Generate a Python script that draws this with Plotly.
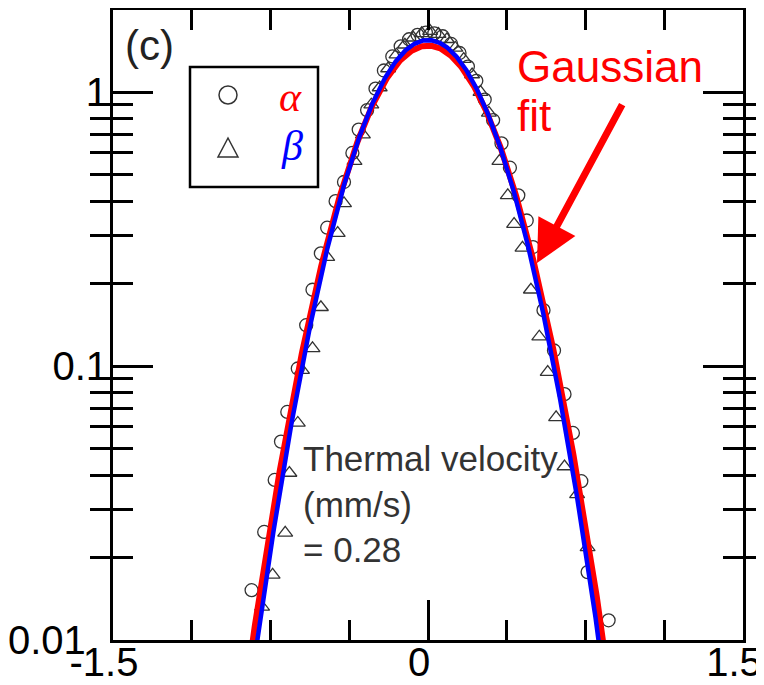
import numpy as np
import plotly.graph_objects as go

# ---- data ----
alpha_x = [-0.84, -0.78, -0.73, -0.70, -0.67, -0.62, -0.58, -0.55, -0.51, -0.48, -0.44, -0.40,
           -0.36, -0.33, -0.29, -0.25, -0.21, -0.17, -0.13, -0.09, -0.05, -0.01, 0.03, 0.07,
           0.11, 0.15, 0.19, 0.23, 0.27, 0.31, 0.35, 0.39, 0.43, 0.47, 0.50, 0.55, 0.60,
           0.65, 0.69, 0.73, 0.76, 0.86]
alpha_y = [0.0152, 0.0248, 0.0384, 0.053, 0.068, 0.098, 0.141, 0.19, 0.258, 0.32, 0.40, 0.47,
           0.60, 0.73, 0.86, 1.03, 1.20, 1.35, 1.47, 1.56, 1.62, 1.65, 1.64, 1.60,
           1.50, 1.39, 1.24, 1.10, 0.94, 0.79, 0.65, 0.53, 0.42, 0.34, 0.272, 0.16, 0.114,
           0.079, 0.057, 0.038, 0.0177, 0.0118]

beta_x = [-0.79, -0.74, -0.68, -0.66, -0.62, -0.60, -0.55, -0.51, -0.48, -0.43, -0.40, -0.35,
          -0.31, -0.27, -0.23, -0.19, -0.15, -0.11, -0.07, -0.03, 0.01, 0.05, 0.09, 0.13,
          0.17, 0.21, 0.25, 0.29, 0.34, 0.38, 0.41, 0.45, 0.49, 0.53, 0.57, 0.61, 0.65,
          0.71, 0.76]
beta_y = [0.0132, 0.0173, 0.0246, 0.0407, 0.062, 0.0967, 0.116, 0.164, 0.25, 0.306, 0.393, 0.56,
          0.70, 0.90, 1.04, 1.22, 1.37, 1.49, 1.58, 1.64, 1.67, 1.63, 1.56, 1.45,
          1.32, 1.16, 1.00, 0.84, 0.56, 0.42, 0.33, 0.27, 0.19, 0.128, 0.095, 0.065, 0.043,
          0.034, 0.0218]

# Gaussian fit parameters (amplitude, width)
fit_alpha_amp, fit_alpha_sigma = 1.48, 0.264
fit_beta_amp, fit_beta_sigma = 1.55, 0.256

x_major_ticks = [-1.5, 0, 1.5]
x_tick_text = ["-1.5", "0", "1.5"]
x_minor_ticks = [-1.125, -0.75, -0.375, 0.375, 0.75, 1.125]
x_top_ticks = [-1.125, -0.75, -0.375, 0, 0.375, 0.75, 1.125]
y_major_ticks = [0.01, 0.1, 1]
y_tick_text = ["0.01\u00a0\u00a0", "0.1", "1"]
y_minor_ticks = [m * d for d in (0.01, 0.1, 1) for m in range(2, 10)]

# ---- geometry (page pixels; the page body has an 8px margin) ----
BODY = 8
W, H = 764 - BODY, 685 - BODY
PL, PR, PT, PB = 113, 743, 10, 640          # plot area in page pixels
L, R, T, B = PL - BODY, W + BODY - PR, PT - BODY, H + BODY - PB
PW, PH = PR - PL, PB - PT


def px(xp):
    return (xp - PL) / PW


def py(yp):
    return (PB - yp) / PH


xs = np.linspace(-0.95, 0.95, 600)
y_alpha_fit = fit_alpha_amp * np.exp(-xs**2 / (2 * fit_alpha_sigma**2))
y_beta_fit = fit_beta_amp * np.exp(-xs**2 / (2 * fit_beta_sigma**2))

fig = go.Figure()
mk = dict(color="#333333", size=13, line=dict(color="#333333", width=1.3))
fig.add_trace(go.Scatter(x=alpha_x, y=alpha_y, mode="markers", name="α",
                         marker=dict(symbol="circle-open", **mk), showlegend=False))
fig.add_trace(go.Scatter(x=beta_x, y=beta_y, mode="markers", name="β",
                         marker=dict(symbol="triangle-up-open", **mk), showlegend=False))
fig.add_trace(go.Scatter(x=xs, y=y_alpha_fit, mode="lines", line=dict(color="#ff0000", width=6),
                         showlegend=False))
fig.add_trace(go.Scatter(x=xs, y=y_beta_fit, mode="lines", line=dict(color="#0000ff", width=4.5),
                         showlegend=False))
# invisible traces so that the tick-only overlay axes are drawn
fig.add_trace(go.Scatter(x=[0], y=[1], xaxis="x2", yaxis="y2", mode="markers",
                         marker=dict(opacity=0), showlegend=False, hoverinfo="skip"))
fig.add_trace(go.Scatter(x=[0], y=[1], xaxis="x3", yaxis="y2", mode="markers",
                         marker=dict(opacity=0), showlegend=False, hoverinfo="skip"))

font = "Liberation Sans, Arial, sans-serif"
tk = dict(ticks="inside", tickwidth=2.5, tickcolor="black", showgrid=False, zeroline=False,
          automargin=False)
fig.update_layout(
    width=W, height=H, margin=dict(l=L, r=R, t=T, b=B, autoexpand=False),
    paper_bgcolor="white", plot_bgcolor="white",
    font=dict(family=font, color="black"),
    xaxis=dict(range=[-1.5, 1.5], tickmode="array", tickvals=x_major_ticks, ticktext=x_tick_text,
               ticklen=40, showline=True, linecolor="black", linewidth=3, mirror=True,
               tickfont=dict(size=40), ticklabeloverflow="allow", ticklabelshift=-9,
               ticklabelstandoff=-15, **tk),
    xaxis2=dict(range=[-1.5, 1.5], overlaying="x", side="bottom", anchor="y2",
                tickmode="array", tickvals=x_minor_ticks, ticklen=20, showticklabels=False,
                showline=False, **tk),
    xaxis3=dict(range=[-1.5, 1.5], overlaying="x", side="top", anchor="y2",
                tickmode="array", tickvals=x_top_ticks, ticklen=20, showticklabels=False,
                showline=False, **tk),
    yaxis=dict(type="log", range=[-2, 0.3], tickmode="array", tickvals=y_major_ticks,
               ticktext=y_tick_text, ticklen=40, showline=True, linecolor="black", linewidth=3,
               mirror="allticks", tickfont=dict(size=40), ticklabelstandoff=-6, **tk),
    yaxis2=dict(type="log", range=[-2, 0.3], overlaying="y", side="left", anchor="x2",
                tickmode="array", tickvals=y_minor_ticks, ticklen=20, showticklabels=False,
                showline=True, linecolor="black", linewidth=3, mirror="allticks", **tk),
)

# legend box drawn by hand
shapes = [
    dict(type="rect", xref="paper", yref="paper", x0=px(190), x1=px(318), y0=py(187), y1=py(67),
         line=dict(color="black", width=2.5)),
    dict(type="circle", xref="paper", yref="paper", x0=px(219), x1=px(237), y0=py(104), y1=py(86),
         line=dict(color="#333333", width=1.5)),
    dict(type="path", xref="paper", yref="paper",
         path=f"M {px(218)},{py(157)} L {px(238)},{py(157)} L {px(228)},{py(138)} Z",
         line=dict(color="#333333", width=1.5)),
]
fig.update_layout(shapes=shapes)

annotations = [
    dict(xref="paper", yref="paper", x=px(290), y=py(97), xanchor="center", yanchor="middle",
         text="<i>α</i>", showarrow=False,
         font=dict(family="Liberation Serif, serif", size=42, color="#ff0000")),
    dict(xref="paper", yref="paper", x=px(292), y=py(146), xanchor="center", yanchor="middle",
         text="<i>β</i>", showarrow=False,
         font=dict(family="Liberation Serif, serif", size=42, color="#0000ff")),
    dict(xref="paper", yref="paper", x=px(123), y=py(20), xanchor="left", yanchor="top",
         text="(c)", showarrow=False, font=dict(size=42, color="#222222")),
    dict(xref="paper", yref="paper", x=px(515), y=py(40), xanchor="left", yanchor="top",
         text="Gaussian", showarrow=False, font=dict(size=44, color="#ff0000")),
    dict(xref="paper", yref="paper", x=px(515), y=py(89), xanchor="left", yanchor="top",
         text="fit", showarrow=False, font=dict(size=44, color="#ff0000")),
    dict(xref="paper", yref="paper", x=px(301), y=py(437), xanchor="left", yanchor="top",
         align="left", text="Thermal velocity<br>(mm/s)<br>= 0.28", showarrow=False,
         font=dict(size=35, color="#333333")),
    dict(x=0.519, y=np.log10(0.2377), xref="x", yref="y", text="", showarrow=True,
         axref="pixel", ayref="pixel", ax=86, ay=-160,
         arrowhead=2, arrowsize=1.2, arrowwidth=7, arrowcolor="#ff0000"),
]
fig.update_layout(annotations=annotations)

fig.write_html("out.html")
